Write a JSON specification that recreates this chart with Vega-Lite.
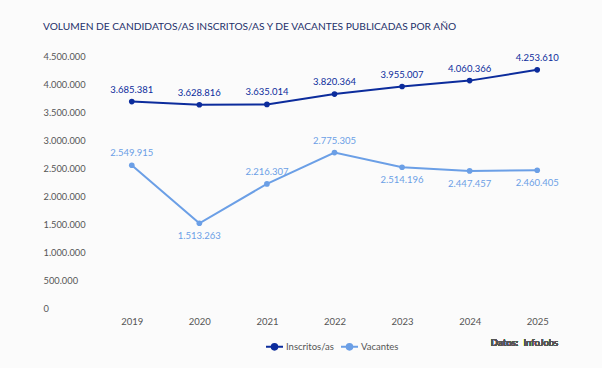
{
  "$schema": "https://vega.github.io/schema/vega-lite/v6.json",
  "autosize": {"type": "none"},
  "width": 473,
  "height": 252,
  "padding": {"left": 98, "top": 56, "right": 31, "bottom": 60},
  "background": "#fbfbfb",
  "config": {
    "locale": {"number": {"decimal": ",", "thousands": ".", "grouping": [3], "currency": ["", " €"]}},
    "font": "Lato",
    "view": {"stroke": null}
  },
  "title": {
    "text": "VOLUMEN DE CANDIDATOS/AS INSCRITOS/AS Y DE VACANTES PUBLICADAS POR AÑO",
    "anchor": "start",
    "frame": "group",
    "dx": -55,
    "offset": 20,
    "fontSize": 10.2,
    "fontWeight": "normal",
    "color": "#24306a",
    "font": "Lato"
  },
  "data": {
    "values": [
      {"year": "2019", "serie": "Inscritos/as", "value": 3685381},
      {"year": "2020", "serie": "Inscritos/as", "value": 3628816},
      {"year": "2021", "serie": "Inscritos/as", "value": 3635014},
      {"year": "2022", "serie": "Inscritos/as", "value": 3820364},
      {"year": "2023", "serie": "Inscritos/as", "value": 3955007},
      {"year": "2024", "serie": "Inscritos/as", "value": 4060366},
      {"year": "2025", "serie": "Inscritos/as", "value": 4253610},
      {"year": "2019", "serie": "Vacantes", "value": 2549915},
      {"year": "2020", "serie": "Vacantes", "value": 1513263},
      {"year": "2021", "serie": "Vacantes", "value": 2216307},
      {"year": "2022", "serie": "Vacantes", "value": 2775305},
      {"year": "2023", "serie": "Vacantes", "value": 2514196},
      {"year": "2024", "serie": "Vacantes", "value": 2447457},
      {"year": "2025", "serie": "Vacantes", "value": 2460405}
    ]
  },
  "encoding": {
    "x": {
      "field": "year", "type": "ordinal",
      "scale": {"type": "point", "padding": 0.5},
      "axis": {"title": null, "labelAngle": 0, "ticks": false, "domain": false, "grid": false,
               "labelFontSize": 9.5, "labelColor": "#555555", "labelPadding": 8, "labelFont": "Lato"}
    },
    "y": {
      "field": "value", "type": "quantitative",
      "scale": {"domain": [0, 4500000], "nice": false},
      "axis": {"title": null, "values": [0, 500000, 1000000, 1500000, 2000000, 2500000, 3000000, 3500000, 4000000, 4500000],
               "format": ",d", "ticks": false, "tickSize": 0, "domain": false, "grid": false,
               "labelAlign": "left", "labelPadding": 55, "labelFontSize": 9.3, "labelColor": "#555555", "labelFont": "Lato"}
    }
  },
  "layer": [
    {
      "mark": {"type": "line", "strokeWidth": 2},
      "encoding": {
        "color": {
          "field": "serie", "type": "nominal",
          "scale": {"domain": ["Inscritos/as", "Vacantes"], "range": ["#0c2c9c", "#6b9fe6"]},
          "legend": {
            "title": null, "orient": "none", "direction": "horizontal",
            "legendX": 167, "legendY": 281,
            "symbolType": "M-1,0L1,0M-0.33,0A0.33,0.33 0 1,1 0.33,0A0.33,0.33 0 1,1 -0.33,0Z",
            "symbolSize": 289, "symbolStrokeWidth": 2,
            "labelFontSize": 9.5, "labelColor": "#555555", "labelFont": "Lato", "labelOffset": 2,
            "columnPadding": 3,
            "encode": {"symbols": {"update": {"fill": {"scale": "color", "field": "value"}}}}
          }
        }
      }
    },
    {
      "mark": {"type": "point", "filled": true, "size": 32, "opacity": 1},
      "encoding": {
        "color": {"field": "serie", "type": "nominal", "legend": null}
      }
    },
    {
      "transform": [{"filter": "datum.serie === 'Inscritos/as' || datum.year === '2019' || datum.year === '2021' || datum.year === '2022'"}],
      "mark": {"type": "text", "dy": -12, "fontSize": 9.5, "baseline": "middle"},
      "encoding": {
        "text": {"field": "value", "type": "quantitative", "format": ",d"},
        "color": {"field": "serie", "type": "nominal", "legend": null}
      }
    },
    {
      "transform": [{"filter": "datum.serie === 'Vacantes' && (datum.year === '2020' || datum.year === '2023' || datum.year === '2024' || datum.year === '2025')"}],
      "mark": {"type": "text", "dy": 13, "fontSize": 9.5, "baseline": "middle"},
      "encoding": {
        "text": {"field": "value", "type": "quantitative", "format": ",d"},
        "color": {"field": "serie", "type": "nominal", "legend": null}
      }
    },
    {
      "mark": {"type": "text", "align": "right", "baseline": "middle", "dx": 21, "dy": 35, "fontSize": 9.5, "color": "#555555"},
      "encoding": {
        "x": {"datum": "2025", "type": "ordinal"},
        "y": {"datum": 0, "type": "quantitative"},
        "text": {"value": "InfoJobs"}
      }
    },
    {
      "mark": {"type": "text", "align": "right", "baseline": "middle", "dx": -19, "dy": 35, "fontSize": 9.5, "fontWeight": "bold", "color": "#555555"},
      "encoding": {
        "x": {"datum": "2025", "type": "ordinal"},
        "y": {"datum": 0, "type": "quantitative"},
        "text": {"value": "Datos:"}
      }
    }
  ]
}
